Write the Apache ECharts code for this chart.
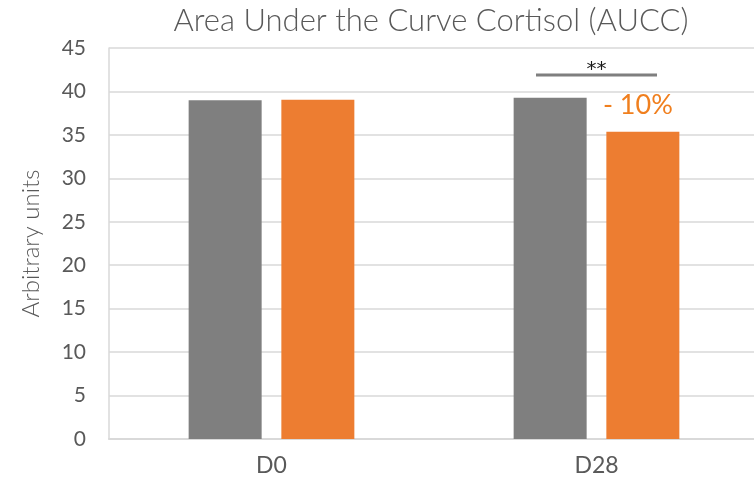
<!DOCTYPE html>
<html>
<head>
<meta charset="utf-8">
<script src="https://cdn.jsdelivr.net/npm/echarts@6/dist/echarts.min.js"></script>
<style>html,body{margin:0;padding:0;background:#fff}#c{width:754px;height:481px}</style>
</head>
<body>
<div id="c"></div>
<script>
const categories = ['D0', 'D28'];
const placeboValues = [38.98, 39.27];
const activeValues = [39.05, 35.36];
const yTicks = [0, 5, 10, 15, 20, 25, 30, 35, 40, 45];
const titleText = 'Area Under the Curve Cortisol (AUCC)';
const yAxisName = 'Arbitrary units';
const changeLabel = '- 10%';
const significance = '**';
const bracketValue = 41.9;
const starsValue = 42.9;

const FONT = 'Lato';
const chart = echarts.init(document.getElementById('c'), null, {renderer: 'canvas'});
const option = {
  animation: false,
  grid: {left: 109, top: 48, width: 650, bottom: 42, containLabel: false, outerBoundsMode: 'none'},
  xAxis: {
    type: 'category',
    data: categories,
    axisLine: {show: true, lineStyle: {color: '#d9d9d9', width: 2}},
    axisTick: {show: false},
    axisLabel: {color: '#595959', fontFamily: FONT, fontSize: 23, margin: 15}
  },
  yAxis: {
    type: 'value',
    min: yTicks[0],
    max: yTicks[yTicks.length - 1],
    interval: yTicks[1] - yTicks[0],
    name: yAxisName,
    nameLocation: 'middle',
    nameGap: 66,
    nameTextStyle: {color: '#595959', fontFamily: FONT, fontSize: 24, fontWeight: 300},
    axisLine: {show: true, lineStyle: {color: '#d9d9d9', width: 1.5}},
    axisTick: {show: false},
    axisLabel: {color: '#595959', fontFamily: FONT, fontSize: 21, margin: 23},
    splitLine: {show: true, lineStyle: {color: '#d9d9d9', width: 1.5}}
  },
  series: [
    {
      type: 'bar', data: placeboValues, barWidth: 73, barGap: '27%',
      itemStyle: {color: '#7f7f7f'}
    },
    {
      type: 'bar', data: activeValues.map((v, i) => i === 1 ? {
        value: v,
        label: {show: true, position: 'top', formatter: changeLabel, color: '#f07f1e',
          fontFamily: FONT, fontSize: 27, distance: 12, offset: [-5, -1]}
      } : v), barWidth: 73,
      itemStyle: {color: '#ed7d31'}
    }
  ]
};
chart.setOption(option);

const pBracket = chart.convertToPixel({xAxisIndex: 0, yAxisIndex: 0}, [categories[1], bracketValue]);
const pStars = chart.convertToPixel({xAxisIndex: 0, yAxisIndex: 0}, [categories[1], starsValue]);
const halfBracket = 60.5;
chart.setOption({
  graphic: [
    {type: 'text', x: 431, y: 21, style: {text: titleText, fill: '#595959', font: '300 31px ' + FONT, textAlign: 'center', textVerticalAlign: 'middle'}},
    {type: 'line', shape: {x1: pBracket[0] - halfBracket, y1: pBracket[1], x2: pBracket[0] + halfBracket, y2: pBracket[1]}, style: {stroke: '#7f7f7f', lineWidth: 3}},
    {type: 'text', x: pStars[0], y: pStars[1] + 4, style: {text: significance, fill: '#1a1a1a', font: '20px "DejaVu Sans"', textAlign: 'center', textVerticalAlign: 'middle'}}
  ]
});
</script>
</body>
</html>
